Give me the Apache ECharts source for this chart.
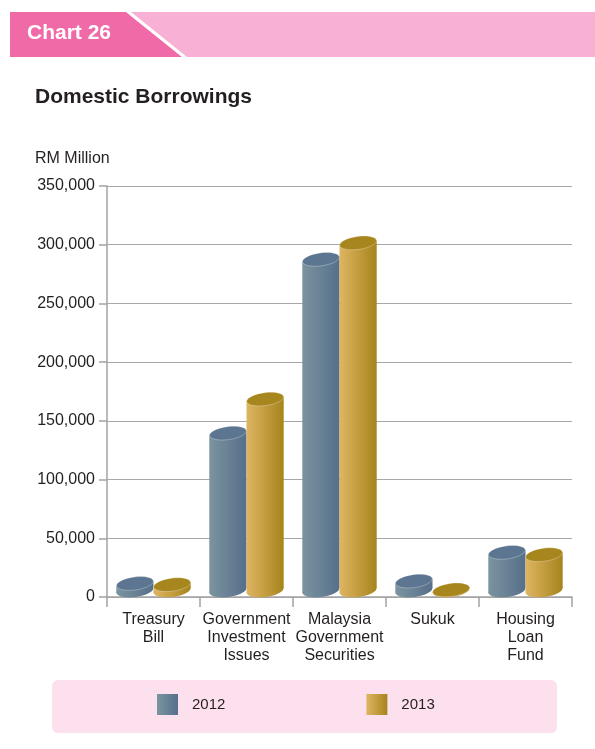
<!DOCTYPE html>
<html>
<head>
<meta charset="utf-8">
<script src="https://cdn.jsdelivr.net/npm/echarts@6/dist/echarts.min.js"></script>
<style>
  html, body { margin: 0; padding: 0; background: #fff; }
  #main { width: 595px; height: 749px; }
</style>
</head>
<body>
<div id="main"></div>
<script>
var categories = ['Treasury\nBill', 'Government\nInvestment\nIssues', 'Malaysia\nGovernment\nSecurities', 'Sukuk', 'Housing\nLoan\nFund'];
var values2012 = [6000, 134000, 282000, 8000, 32500];
var values2013 = [5000, 163000, 296000, 500, 30500];
var yTicks = [0, 50000, 100000, 150000, 200000, 250000, 300000, 350000];

var FONT = '"Liberation Sans", Arial, sans-serif';

function grad(c1, c2) {
    return new echarts.graphic.LinearGradient(0, 0, 1, 0, [
        { offset: 0, color: c1 },
        { offset: 1, color: c2 }
    ]);
}

var styles = [
    { left: '#7b949f', right: '#566f8b', top: '#5c7590' },
    { left: '#dfb562', right: '#a6841c', top: '#a8861e' }
];

/* draws one cylinder per data item */
function renderCyl(params, api) {
    var cat = api.value(0), val = api.value(1);
    var top = api.coord([cat, val]);
    var base = api.coord([cat, 0]);
    var band = api.size([1, 0])[0];
    var rx = band * 0.2;
    var ry = 6.5;
    var tilt = 2.5;
    var cx = top[0] + (params.seriesIndex === 0 ? -rx : rx);
    var yTop = top[1] - ry, yBase = base[1] - ry;
    var ang = Math.atan2(tilt, rx);
    var s = styles[params.seriesIndex];
    return {
        type: 'group',
        children: [{
            type: 'ellipse',
            x: cx, y: yBase, rotation: ang,
            shape: { cx: 0, cy: 0, rx: rx, ry: ry },
            style: { fill: grad(s.left, s.right) }
        }, {
            type: 'polygon',
            shape: { points: [[cx - rx, yTop + tilt], [cx + rx, yTop - tilt], [cx + rx, yBase - tilt], [cx - rx, yBase + tilt]] },
            style: { fill: grad(s.left, s.right) }
        }, {
            type: 'ellipse',
            x: cx, y: yTop, rotation: ang,
            shape: { cx: 0, cy: 0, rx: rx, ry: ry },
            style: { fill: s.top, stroke: 'rgba(255,255,255,0.45)', lineWidth: 0.6 }
        }]
    };
}

var chart = echarts.init(document.getElementById('main'), null, { renderer: 'canvas' });

chart.setOption({
    animation: false,
    textStyle: { fontFamily: FONT },
    graphic: [
        { type: 'rect', shape: { x: 10, y: 12, width: 585, height: 45 }, style: { fill: '#f8b1d4' } },
        { type: 'polygon', shape: { points: [[10, 12], [126, 12], [182, 57], [10, 57]] }, style: { fill: '#f06aa8' } },
        { type: 'polygon', shape: { points: [[126, 12], [131, 12], [187, 57], [182, 57]] }, style: { fill: '#ffffff' } },
        { type: 'text', x: 27, y: 33, style: { text: 'Chart 26', fill: '#ffffff', font: 'bold 21px ' + FONT, textVerticalAlign: 'middle' } },
        { type: 'text', x: 35, y: 97, style: { text: 'Domestic Borrowings', fill: '#231f20', font: 'bold 21px ' + FONT, textVerticalAlign: 'middle' } },
        { type: 'text', x: 35, y: 159, style: { text: 'RM Million', fill: '#231f20', font: '16px ' + FONT, textVerticalAlign: 'middle' } },
        { type: 'rect', z: -1, shape: { x: 52, y: 680, width: 505, height: 53, r: 6 }, style: { fill: '#fde0ee' } }
    ],
    legend: {
        left: 157,
        top: 694,
        padding: 0,
        itemWidth: 21,
        itemHeight: 21,
        itemGap: 141,
        icon: 'rect',
        textStyle: { fontSize: 15, color: '#231f20', fontFamily: FONT, padding: [0, 0, 0, 9] },
        data: [
            { name: '2012', itemStyle: { color: grad(styles[0].left, styles[0].right) } },
            { name: '2013', itemStyle: { color: grad(styles[1].left, styles[1].right) } }
        ]
    },
    grid: { left: 107, right: 23, top: 186, bottom: 152 },
    xAxis: {
        type: 'category',
        data: categories,
        axisLine: { lineStyle: { color: '#a3a3a3', width: 1.5 } },
        axisTick: { show: true, length: 10, interval: 0, lineStyle: { color: '#a3a3a3', width: 1.5 } },
        axisLabel: { interval: 0, margin: 14, fontSize: 16, lineHeight: 18, color: '#231f20', fontFamily: FONT }
    },
    yAxis: {
        type: 'value',
        min: yTicks[0],
        max: yTicks[yTicks.length - 1],
        interval: 50000,
        axisLine: { show: true, lineStyle: { color: '#a3a3a3', width: 1.5 } },
        axisTick: { show: true, length: 8, lineStyle: { color: '#a3a3a3', width: 1.5 } },
        splitLine: { lineStyle: { color: '#a8a8a8', width: 1.2 } },
        axisLabel: {
            margin: 12,
            fontSize: 16,
            color: '#231f20',
            fontFamily: FONT,
            formatter: function (v) { return v.toLocaleString('en-US'); }
        }
    },
    series: [{
        name: '2012',
        type: 'custom',
        renderItem: renderCyl,
        itemStyle: { color: styles[0].right },
        data: values2012.map(function (v, i) { return [i, v]; })
    }, {
        name: '2013',
        type: 'custom',
        renderItem: renderCyl,
        itemStyle: { color: styles[1].right },
        data: values2013.map(function (v, i) { return [i, v]; })
    }]
});
</script>
</body>
</html>
